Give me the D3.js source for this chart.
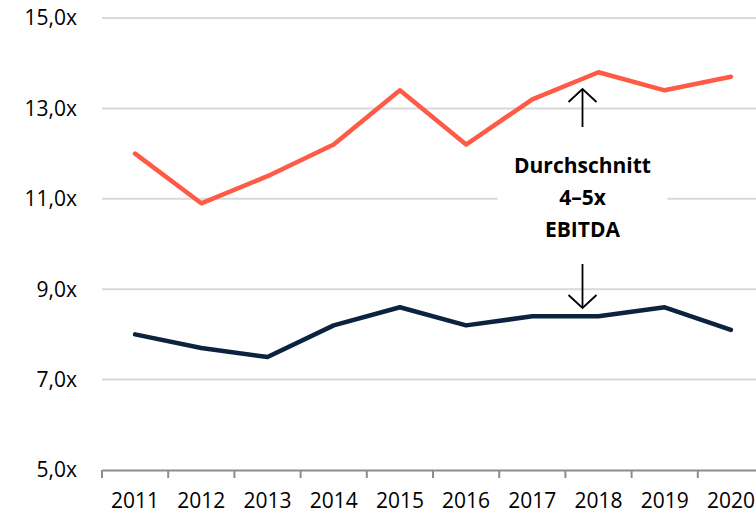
<!DOCTYPE html>
<html>
<head>
<meta charset="utf-8">
<script src="https://cdn.jsdelivr.net/npm/d3@7"></script>
<style>
  body { margin: 0; background: #fff; }
  svg { display: block; font-family: "Open Sans", "Liberation Sans", sans-serif; }
</style>
</head>
<body>
<svg id="chart" width="756" height="516"></svg>
<script>
const years = ['2011', '2012', '2013', '2014', '2015', '2016', '2017', '2018', '2019', '2020'];
const upperSeries = [12.0, 10.9, 11.5, 12.2, 13.4, 12.2, 13.2, 13.8, 13.4, 13.7];
const lowerSeries = [8.0, 7.7, 7.5, 8.2, 8.6, 8.2, 8.4, 8.4, 8.6, 8.1];
const yTicks = [5, 7, 9, 11, 13, 15];
const noteLines = ['Durchschnitt', '4–5x', 'EBITDA'];

const svg = d3.select('#chart');

const x = d3.scaleBand().domain(years).range([102, 764]);
const y = d3.scaleLinear().domain([5, 15]).range([470, 18]);
const fmt = v => d3.format('.1f')(v).replace('.', ',') + 'x';

// Gridlines
svg.append('g').selectAll('line')
    .data(yTicks.slice(1))
    .enter().append('line')
    .attr('x1', 102).attr('x2', 756)
    .attr('y1', d => y(d)).attr('y2', d => y(d))
    .attr('stroke', '#d9d9d9')
    .attr('stroke-width', 2);

// Y labels
svg.append('g').selectAll('text')
    .data(yTicks)
    .enter().append('text')
    .attr('x', 77)
    .attr('y', d => y(d))
    .attr('dy', '0.35em')
    .attr('text-anchor', 'end')
    .attr('font-size', '21px')
    .attr('fill', '#000')
    .text(fmt);

// X axis
const xAxis = svg.append('g')
    .attr('transform', 'translate(0,470)')
    .call(d3.axisBottom(x).tickSize(0).tickPadding(23));
xAxis.select('.domain').attr('stroke', '#8c8c8c').attr('stroke-width', 2);
xAxis.selectAll('text').attr('font-size', '21px').attr('fill', '#000')
    .attr('font-family', '"Open Sans", "Liberation Sans", sans-serif');

// Band boundary ticks
svg.append('g').selectAll('line')
    .data(years)
    .enter().append('line')
    .attr('x1', d => x(d)).attr('x2', d => x(d))
    .attr('y1', 470).attr('y2', 478)
    .attr('stroke', '#8c8c8c')
    .attr('stroke-width', 2);

// Lines
const line = d3.line()
    .x((d, i) => x(years[i]) + x.bandwidth() / 2)
    .y(d => y(d));

svg.append('path')
    .datum(upperSeries)
    .attr('d', line)
    .attr('fill', 'none')
    .attr('stroke', '#ff5a45')
    .attr('stroke-width', 4.5)
    .attr('stroke-linecap', 'round')
    .attr('stroke-linejoin', 'round');

svg.append('path')
    .datum(lowerSeries)
    .attr('d', line)
    .attr('fill', 'none')
    .attr('stroke', '#0c2340')
    .attr('stroke-width', 4.5)
    .attr('stroke-linecap', 'round')
    .attr('stroke-linejoin', 'round');

// Annotation
const ax = x('2018') + x.bandwidth() / 2 - 16;
svg.append('rect')
    .attr('x', ax - 85).attr('y', y(11) - 8)
    .attr('width', 170).attr('height', 16)
    .attr('fill', '#fff');

svg.append('g').selectAll('text')
    .data(noteLines)
    .enter().append('text')
    .attr('x', ax)
    .attr('y', (d, i) => 166 + i * 32)
    .attr('dy', '0.35em')
    .attr('text-anchor', 'middle')
    .attr('font-size', '21px')
    .attr('font-weight', 'bold')
    .attr('fill', '#000')
    .text(d => d);

// Arrows
const arrow = (y1, y2) => {
    const dir = y2 < y1 ? 1 : -1;
    svg.append('line')
        .attr('x1', ax).attr('x2', ax)
        .attr('y1', y1).attr('y2', y2)
        .attr('stroke', '#000').attr('stroke-width', 1.8);
    svg.append('path')
        .attr('d', `M${ax - 14},${y2 + dir * 13}L${ax},${y2}L${ax + 14},${y2 + dir * 13}`)
        .attr('fill', 'none').attr('stroke', '#000').attr('stroke-width', 1.8);
};
arrow(127, 89);
arrow(264, 308);
</script>
</body>
</html>
